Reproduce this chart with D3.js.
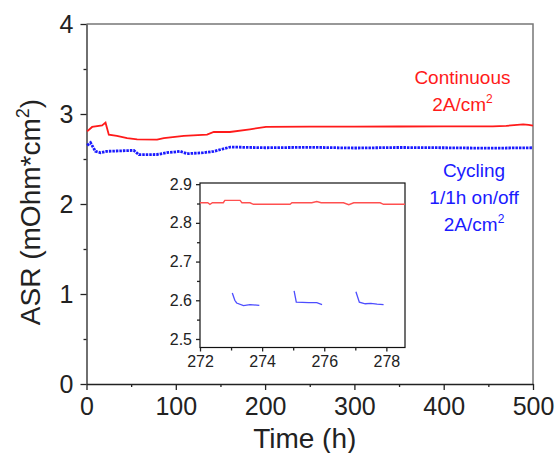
<!DOCTYPE html>
<html>
<head>
<meta charset="utf-8">
<title>ASR vs Time</title>
<script src="https://cdn.jsdelivr.net/npm/d3@7"></script>
<style>
body { margin: 0; background: #fff; font-family: "Liberation Sans", Arial, sans-serif; }
.axis path, .axis line { stroke: #222; stroke-width: 1.3px; }
.axis text { fill: #222; font-family: "Liberation Sans", Arial, sans-serif; }
</style>
</head>
<body>
<script>
// main plot: continuous operation (red)
var contTime = [0.7, 6.3, 17.5, 21.3, 25, 34, 45.5, 56.7, 79, 86.6, 109, 135, 142.5, 160.5, 183, 201, 250, 300, 350, 400, 455, 470, 489, 495, 500];
var contAsr  = [2.807, 2.856, 2.874, 2.904, 2.77, 2.756, 2.733, 2.719, 2.715, 2.733, 2.756, 2.77, 2.8, 2.8, 2.83, 2.856, 2.859, 2.859, 2.861, 2.862, 2.863, 2.868, 2.885, 2.878, 2.87];
// main plot: cycling 1/1h (blue)
var cycTime = [0.7, 4.5, 10, 15.6, 22.4, 53, 58.6, 79, 90, 105, 112.6, 131, 142.5, 161, 200, 250, 300, 350, 400, 450, 500];
var cycAsr  = [2.652, 2.681, 2.585, 2.57, 2.585, 2.596, 2.548, 2.55, 2.57, 2.585, 2.559, 2.57, 2.585, 2.633, 2.625, 2.63, 2.622, 2.628, 2.625, 2.62, 2.625];

// inset (272-278.6 h)
var insContTime = [272, 272.25, 272.32, 272.4, 272.75, 272.8, 273.29, 273.35, 273.61, 273.72, 274.9, 274.96, 275.6, 275.76, 275.9, 276.62, 276.79, 276.95, 277.8, 277.91, 278.6];
var insContAsr  = [2.852, 2.852, 2.848, 2.852, 2.852, 2.858, 2.858, 2.852, 2.852, 2.848, 2.848, 2.852, 2.852, 2.855, 2.852, 2.852, 2.847, 2.852, 2.852, 2.848, 2.848];
var insCycSeg   = [1, 1, 1, 1, 1, 1, 2, 2, 2, 2, 2, 3, 3, 3, 3, 3, 3];
var insCycTime  = [273.04, 273.12, 273.18, 273.4, 273.61, 273.91, 275.03, 275.1, 275.5, 275.76, 275.93, 277.02, 277.13, 277.32, 277.5, 277.7, 277.91];
var insCycAsr   = [2.619, 2.6, 2.593, 2.586, 2.589, 2.587, 2.624, 2.595, 2.594, 2.594, 2.589, 2.622, 2.595, 2.591, 2.592, 2.59, 2.589];

var yTicks = [0, 1, 2, 3, 4];
var xTicks = [0, 100, 200, 300, 400, 500];
var insYTicks = [2.5, 2.6, 2.7, 2.8, 2.9];
var insXTicks = [272, 274, 276, 278];

var W = 558, H = 453;
var svg = d3.select("body").append("svg")
  .attr("width", W).attr("height", H);

var x = d3.scaleLinear().domain([0, 500]).range([86.5, 533]);
var y = d3.scaleLinear().domain([0, 4]).range([384, 24]);

// frame top/right
svg.append("path")
  .attr("d", "M" + x(0) + "," + y(4) + "H" + x(500) + "V" + y(0))
  .attr("fill", "none").attr("stroke", "#777").attr("stroke-width", 1.5);

// minor ticks
svg.append("g").attr("class", "axis")
  .attr("transform", "translate(0," + y(0) + ")")
  .call(d3.axisBottom(x).tickValues([50, 150, 250, 350, 450]).tickSize(3).tickFormat(""))
  .select(".domain").remove();
svg.append("g").attr("class", "axis")
  .attr("transform", "translate(" + x(0) + ",0)")
  .call(d3.axisLeft(y).tickValues([0.5, 1.5, 2.5, 3.5]).tickSize(3).tickFormat(""))
  .select(".domain").remove();

var xa = svg.append("g").attr("class", "axis")
  .attr("transform", "translate(0," + y(0) + ")")
  .call(d3.axisBottom(x).tickValues(xTicks).tickSize(6).tickSizeOuter(0).tickPadding(7).tickFormat(d3.format("d")));
xa.selectAll("text").attr("font-size", 25);

var ya = svg.append("g").attr("class", "axis")
  .attr("transform", "translate(" + x(0) + ",0)")
  .call(d3.axisLeft(y).tickValues(yTicks).tickSize(6).tickSizeOuter(0).tickPadding(7).tickFormat(d3.format("d")));
ya.selectAll("text").attr("font-size", 25);

// axis titles
svg.append("text")
  .attr("x", (x(0) + x(500)) / 2 - 5).attr("y", 448)
  .attr("text-anchor", "middle").attr("font-size", 28).attr("fill", "#222")
  .text("Time (h)");

var yl = svg.append("text")
  .attr("transform", "translate(40," + ((y(0) + y(4)) / 2 + 8) + ") rotate(-90)")
  .attr("text-anchor", "middle").attr("font-size", 28).attr("fill", "#222");
yl.append("tspan").text("ASR (mOhm*cm");
yl.append("tspan").attr("font-size", 18).attr("dy", -11).text("2");
yl.append("tspan").attr("dy", 11).text(")");

// main data lines
var contData = contTime.map(function(t, i) { return [t, contAsr[i]]; });
var cycData = cycTime.map(function(t, i) { return [t, cycAsr[i]]; });
var line = d3.line().x(function(d) { return x(d[0]); }).y(function(d) { return y(d[1]); });

svg.append("path").datum(contData)
  .attr("d", line).attr("fill", "none")
  .attr("stroke", "#ff1a1a").attr("stroke-width", 1.8);

svg.append("path").datum(cycData)
  .attr("d", line).attr("fill", "none")
  .attr("stroke", "#1a1aff").attr("stroke-width", 2.8)
  .attr("stroke-dasharray", "2.5,1");

// annotations
function label(lines, tx, baseY, color) {
  lines.forEach(function(l, i) {
    var t = svg.append("text")
      .attr("x", x(tx)).attr("y", baseY + i * 27)
      .attr("text-anchor", "middle").attr("font-size", 19).attr("fill", color);
    t.append("tspan").text(l[0]);
    if (l[1]) t.append("tspan").attr("font-size", 12).attr("dy", -8).text(l[1]);
  });
}
label([["Continuous"], ["2A/cm", "2"]], 421, 84, "#ff1a1a");
label([["Cycling"], ["1/1h on/off"], ["2A/cm", "2"]], 434, 177, "#1a1aff");

// inset
var ix = d3.scaleLinear().domain([272, 278.6]).range([200, 405]);
var iy = d3.scaleLinear().domain([2.478, 2.903]).range([347.5, 183]);

svg.append("rect")
  .attr("x", 200).attr("y", 183).attr("width", 205).attr("height", 164.5)
  .attr("fill", "#fff").attr("stroke", "#111").attr("stroke-width", 1.2);

svg.append("g").attr("class", "axis")
  .attr("transform", "translate(0," + iy.range()[0] + ")")
  .call(d3.axisBottom(ix).tickValues([273, 275, 277]).tickSize(3).tickFormat(""))
  .select(".domain").remove();
svg.append("g").attr("class", "axis")
  .attr("transform", "translate(" + ix.range()[0] + ",0)")
  .call(d3.axisLeft(iy).tickValues([2.55, 2.65, 2.75, 2.85]).tickSize(3).tickFormat(""))
  .select(".domain").remove();

var ixa = svg.append("g").attr("class", "axis")
  .attr("transform", "translate(0," + iy.range()[0] + ")")
  .call(d3.axisBottom(ix).tickValues(insXTicks).tickSize(4).tickSizeOuter(0).tickPadding(4).tickFormat(d3.format("d")));
ixa.selectAll("text").attr("font-size", 16).attr("fill", "#333");
ixa.select(".domain").remove();

var iya = svg.append("g").attr("class", "axis")
  .attr("transform", "translate(" + ix.range()[0] + ",0)")
  .call(d3.axisLeft(iy).tickValues(insYTicks).tickSize(4).tickSizeOuter(0).tickPadding(4).tickFormat(d3.format(".1f")));
iya.selectAll("text").attr("font-size", 16).attr("fill", "#333");
iya.select(".domain").remove();

var iline = d3.line().x(function(d) { return ix(d[0]); }).y(function(d) { return iy(d[1]); });
var insCont = insContTime.map(function(t, i) { return [t, insContAsr[i]]; });
svg.append("path").datum(insCont)
  .attr("d", iline).attr("fill", "none")
  .attr("stroke", "#ff5050").attr("stroke-width", 1.4);

var segs = d3.groups(insCycTime.map(function(t, i) { return [t, insCycAsr[i], insCycSeg[i]]; }), function(d) { return d[2]; });
svg.selectAll(".cycseg").data(segs).enter().append("path")
  .attr("class", "cycseg")
  .attr("d", function(s) { return iline(s[1]); })
  .attr("fill", "none").attr("stroke", "#4d4dff").attr("stroke-width", 1.3);
</script>
</body>
</html>
